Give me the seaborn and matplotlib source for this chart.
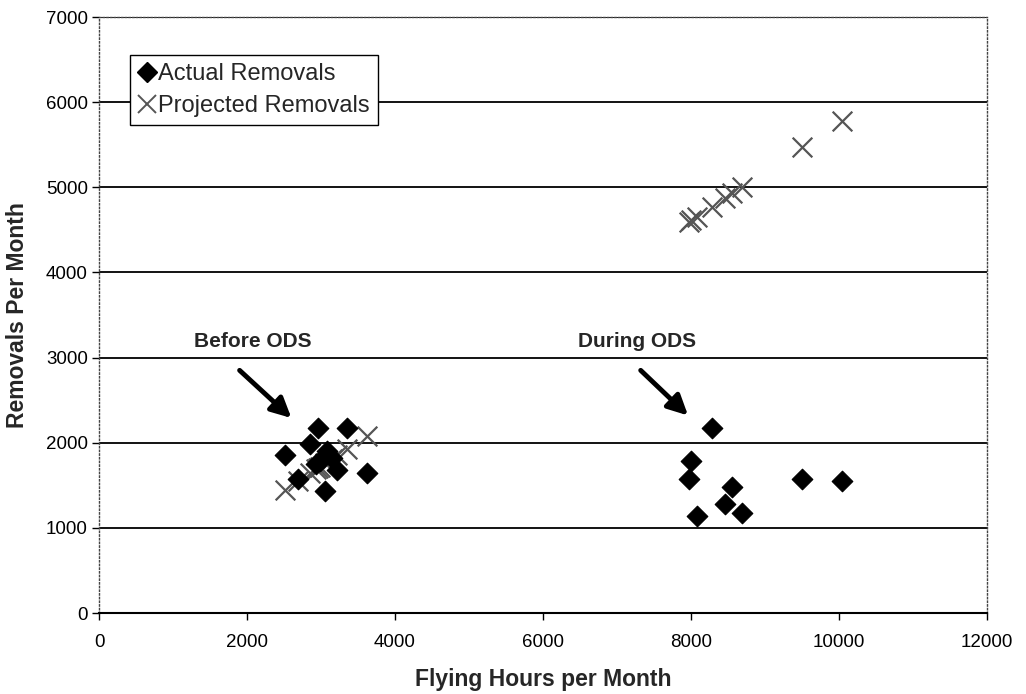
import pandas as pd
import seaborn as sns
import matplotlib.pyplot as plt
from matplotlib.lines import Line2D

# Values
before_hours = [2520, 2690, 2850, 2930, 2960, 2990, 3050, 3080, 3150, 3210, 3350, 3620]
before_actual = [1850, 1570, 1980, 1750, 2170, 1780, 1430, 1900, 1820, 1680, 2170, 1640]
before_projected = [1450, 1550, 1640, 1690, 1700, 1720, 1760, 1770, 1810, 1850, 1930, 2080]

during_hours = [7970, 8000, 8080, 8290, 8460, 8560, 8690, 9500, 10040]
during_actual = [1570, 1780, 1140, 2170, 1280, 1480, 1170, 1570, 1555]
during_projected = [4590, 4610, 4650, 4770, 4870, 4930, 5000, 5470, 5780]

hours = before_hours + during_hours
actual = pd.DataFrame({'Flying Hours': hours, 'Removals': before_actual + during_actual})
projected = pd.DataFrame({'Flying Hours': hours, 'Removals': before_projected + during_projected})

sns.set_style('white')
plt.rcParams['font.family'] = ['Liberation Sans', 'DejaVu Sans']

fig = plt.figure(figsize=(10.26, 6.94), dpi=100)
ax = fig.add_axes([0.0965, 0.1167, 0.8655, 0.8588])

sns.scatterplot(data=projected, x='Flying Hours', y='Removals', marker='x', s=200,
                color='#555555', linewidth=1.6, ax=ax, zorder=3)
sns.scatterplot(data=actual, x='Flying Hours', y='Removals', marker='D', s=110,
                color='black', edgecolor='black', ax=ax, zorder=4)

ax.set_xlim(0, 12000)
ax.set_ylim(0, 7000)
ax.set_xticks(range(0, 12001, 2000))
ax.set_yticks(range(0, 7001, 1000))
ax.yaxis.grid(True, color='black', linewidth=1.3)
ax.set_axisbelow(True)

for side in ['top', 'right', 'left']:
    ax.spines[side].set_linestyle(':')
    ax.spines[side].set_color('#444444')
    ax.spines[side].set_linewidth(1.0)
ax.spines['bottom'].set_color('black')
ax.spines['bottom'].set_linewidth(1.5)

ax.tick_params(axis='both', direction='out', length=5, width=1, colors='black',
               labelsize=13.5, bottom=True, left=True)
ax.tick_params(axis='x', pad=10)
ax.tick_params(axis='y', pad=3)

ax.set_xlabel('Flying Hours per Month', fontsize=16.5, fontweight='bold', labelpad=12)
ax.set_ylabel('Removals Per Month', fontsize=16.5, fontweight='bold', labelpad=12)

# annotations
ax.text(2080, 3190, 'Before ODS', ha='center', va='center', fontsize=15, fontweight='bold')
ax.text(7270, 3190, 'During ODS', ha='center', va='center', fontsize=15, fontweight='bold')
arrow = dict(arrowstyle='-|>', color='black', lw=3.5, mutation_scale=30, shrinkA=0, shrinkB=0)
ax.annotate('', xy=(2600, 2290), xytext=(1900, 2850), arrowprops=arrow)
ax.annotate('', xy=(7960, 2320), xytext=(7320, 2850), arrowprops=arrow)

handles = [
    Line2D([], [], marker='D', color='black', linestyle='none', markersize=10),
    Line2D([], [], marker='x', color='#555555', linestyle='none', markersize=13, markeredgewidth=1.4),
]
leg = ax.legend(handles, ['Actual Removals', 'Projected Removals'], loc='upper left',
                bbox_to_anchor=(0.035, 0.936), fontsize=17, frameon=True, fancybox=False,
                handlelength=0.7, handletextpad=0.15, borderpad=0.35, labelspacing=0.4,
                borderaxespad=0)
leg.get_frame().set_edgecolor('black')
leg.get_frame().set_linewidth(1.0)
leg.get_frame().set_alpha(1)

fig.savefig('out.png', dpi=100)
